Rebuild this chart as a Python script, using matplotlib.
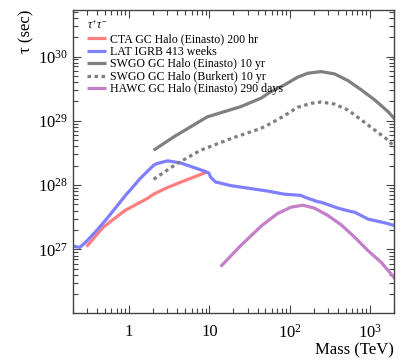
import math

import matplotlib
matplotlib.use("Agg")
import matplotlib.pyplot as plt
from matplotlib.ticker import LogLocator, FuncFormatter, NullFormatter

# curves (mass in TeV, lifetime in s)
cta_mass = [0.295, 0.476, 0.891, 1.67, 2.02, 2.97, 3.96, 5.28, 9.41]
cta_tau = [1.10e27, 2.21e27, 4.03e27, 6.13e27, 7.2e27, 9.1e27, 1.05e28, 1.21e28, 1.60e28]

lat_mass = [0.199, 0.243, 0.295, 0.394, 0.526, 0.771, 0.936, 1.03, 1.37, 2.02, 2.22,
            2.97, 3.11, 4.35, 7.05, 8.53, 9.86, 10.35, 11.97, 12.6, 18.4, 53.2, 85.9,
            139, 153, 225, 247, 401, 589, 647, 952, 1538, 2040]
lat_tau = [1.12e27, 1.07e27, 1.33e27, 1.96e27, 2.98e27, 5.4e27, 7.3e27, 8.3e27, 1.26e28,
           2.03e28, 2.16e28, 2.37e28, 2.37e28, 2.21e28, 1.80e28, 1.66e28,
           1.54e28, 1.33e28, 1.11e28, 1.10e28, 9.8e27, 8.06e27, 7.2e27, 6.9e27, 6.5e27,
           5.5e27, 5.4e27, 4.37e27, 3.85e27, 3.78e27, 2.95e27, 2.58e27, 2.34e27]

swgo_ein_mass = [2.02, 3.59, 9.41, 24.6, 43.8, 58.5, 85.9, 126, 169, 247, 363, 535, 785,
                 1152, 1694, 2094]
swgo_ein_tau = [3.48e28, 5.6e28, 1.15e29, 1.66e29, 2.24e29, 2.84e29, 3.6e29, 4.77e29,
                5.5e29, 5.83e29, 5.37e29, 4.22e29, 3.02e29, 2.11e29, 1.38e29, 1.03e29]

swgo_bur_mass = [2.02, 3.96, 7.76, 20.3, 43.8, 58.5, 85.9, 126, 185, 247, 363, 535, 785,
                 1152, 1694, 2094]
swgo_bur_tau = [1.23e28, 2.16e28, 3.48e28, 5.5e28, 7.6e28, 9.1e28, 1.2e29, 1.62e29,
                1.87e29, 1.96e29, 1.82e29, 1.47e29, 1.03e29, 7.16e28, 4.99e28, 3.7e28]

hawc_mass = [13.8, 24.6, 45, 70.9, 104, 146, 204, 300, 440, 647, 952, 1397, 2094]
hawc_tau = [5.37e26, 1.14e27, 2.34e27, 3.6e27, 4.52e27, 4.85e27, 4.37e27,
            3.36e27, 2.4e27, 1.54e27, 9.5e26, 6.2e26, 3.4e26]

plt.rcParams["font.family"] = ["Liberation Serif", "DejaVu Serif"]
plt.rcParams["mathtext.fontset"] = "custom"
plt.rcParams["mathtext.rm"] = "Liberation Serif"
plt.rcParams["mathtext.it"] = "Liberation Serif:italic"

fig = plt.figure(figsize=(4.07, 3.6), dpi=100)
ax = fig.add_axes([0.1794, 0.1306, 0.7886, 0.8416])

lw = 2.3
style = dict(lw=lw, solid_joinstyle="round", solid_capstyle="butt")
ax.plot(cta_mass, cta_tau, color="#ff7f7f", label="CTA GC Halo (Einasto) 200 hr", **style)
ax.plot(lat_mass, lat_tau, color="#7f7fff", label="LAT IGRB 413 weeks", **style)
ax.plot(swgo_ein_mass, swgo_ein_tau, color="#7f7f7f",
        label="SWGO GC Halo (Einasto) 10 yr", **style)
ax.plot(swgo_bur_mass, swgo_bur_tau, color="#7f7f7f", dashes=(1.1, 1.1),
        label="SWGO GC Halo (Burkert) 10 yr", **style)
ax.plot(hawc_mass, hawc_tau, color="#c47fc9",
        label="HAWC GC Halo (Einasto) 290 days", **style)

ax.set_xscale("log")
ax.set_yscale("log")
ax.set_xlim(0.2, 2000)
ax.set_ylim(1.02e26, 5.3e30)


def xfmt(v, pos):
    if v < 0.5:
        return ""
    if v < 5:
        return "1"
    if v < 50:
        return "10"
    return "$10^{%d}$" % int(round(math.log10(v)))


ax.xaxis.set_major_locator(LogLocator(base=10, numticks=10))
ax.xaxis.set_minor_locator(LogLocator(base=10, subs=range(2, 10), numticks=20))
ax.xaxis.set_major_formatter(FuncFormatter(xfmt))
ax.xaxis.set_minor_formatter(NullFormatter())
ax.yaxis.set_major_locator(LogLocator(base=10, numticks=10))
ax.yaxis.set_minor_locator(LogLocator(base=10, subs=range(2, 10), numticks=20))
ax.yaxis.set_minor_formatter(NullFormatter())

ax.tick_params(which="both", direction="in", top=True, right=True, colors="#444444",
               labelcolor="black", labelsize=12)
ax.tick_params(which="major", length=6, width=0.8)
ax.tick_params(which="minor", length=3.5, width=0.8)
ax.tick_params(axis="x", pad=8)
for s in ax.spines.values():
    s.set_color("#444444")
    s.set_linewidth(1.0)

ax.set_xlabel("Mass (TeV)", loc="right", fontsize=12, labelpad=0)
ax.set_ylabel("τ (sec)", loc="top", fontsize=12, labelpad=3)

leg = ax.legend(loc="upper left", bbox_to_anchor=(0.02, 0.995), frameon=False,
                fontsize=8.6, handlelength=1.6, handletextpad=0.4, labelspacing=0.05,
                borderaxespad=0.2, title="$\\tau^{+}\\tau^{-}$",
                title_fontproperties={"size": 8.5, "style": "italic"}, alignment="left")

fig.savefig("out.png", dpi=100)
